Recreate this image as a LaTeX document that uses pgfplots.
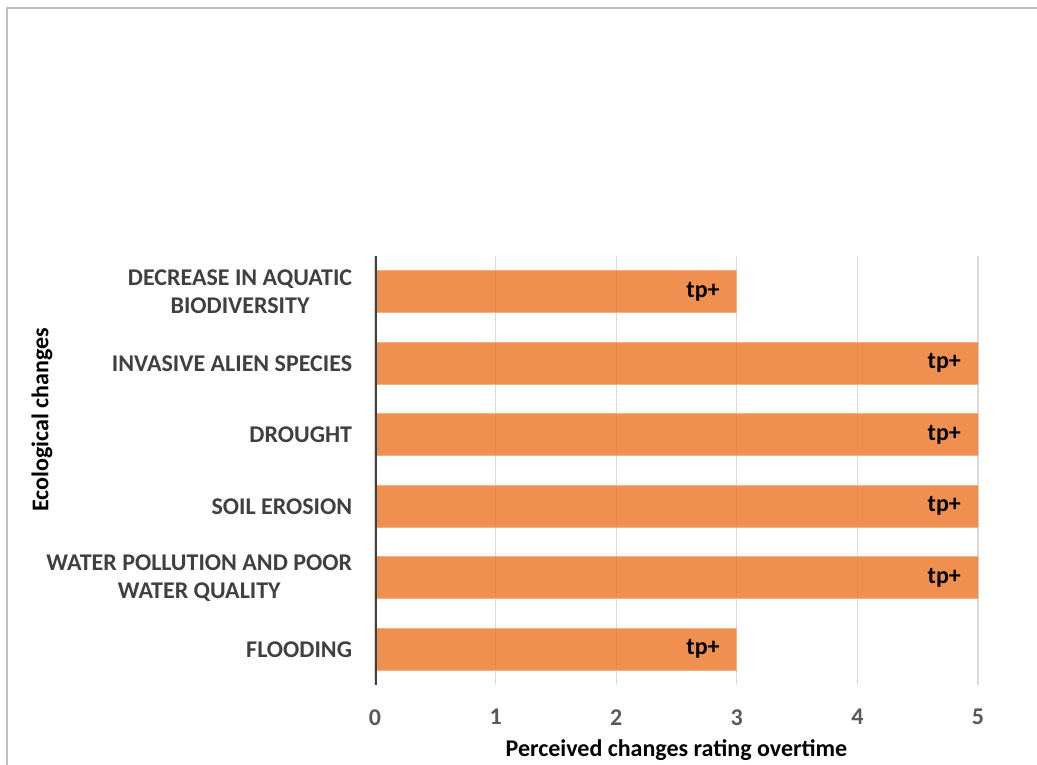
\documentclass[border=0pt]{standalone}
\usepackage{fontspec}
\setmainfont{Carlito}
\usepackage{pgfplots}
\pgfplotsset{compat=1.18}
\definecolor{barfill}{HTML}{ED7D31}
\definecolor{baredge}{HTML}{F4B183}
\definecolor{gridgray}{HTML}{D9D9D9}
\definecolor{framegray}{HTML}{BFBFBF}
\definecolor{ticktext}{HTML}{595959}
\definecolor{cattext}{HTML}{404040}
\definecolor{axisdark}{HTML}{404040}
\newcommand{\lblfont}{\fontsize{18pt}{21pt}\selectfont\bfseries}
\begin{document}
\begin{tikzpicture}
\useasboundingbox (0,0) rectangle (777.75pt,573pt);
\draw[framegray, line width=0.9pt] (5.25pt,-5pt) -- (5.25pt,567pt) -- (790pt,567pt);
\begin{axis}[
  at={(281.25pt,59.25pt)}, anchor=south west,
  scale only axis, width=452.25pt, height=321.75pt,
  xbar, bar width=31.5pt, bar shift=0pt,
  xmin=0, xmax=5, ymin=-0.5, ymax=5.5,
  xtick={0,1,2,3,4,5}, ytick={0,1,2,3,4,5},
  yticklabels={{FLOODING},{WATER POLLUTION AND POOR\\WATER QUALITY},{SOIL EROSION},{DROUGHT},{INVASIVE ALIEN SPECIES},{DECREASE IN AQUATIC\\BIODIVERSITY}},
  major tick length=0pt,
  axis line style={draw=none},
  xmajorgrids, grid style={gridgray, line width=0.9pt},
  /pgf/number format/assume math mode=true,
  xticklabel style={font=\lblfont, text=ticktext, inner sep=0pt, anchor=north},
  xticklabel shift=18pt,
  yticklabel style={font=\lblfont, text=cattext, inner sep=0pt, align=center, anchor=east},
  yticklabel shift=17pt,
  xlabel={Perceived changes rating overtime},
  ylabel={Ecological changes},
  every axis x label/.style={at={(axis description cs:0.5,0)}, anchor=center, yshift=-48.5pt, font=\lblfont, text=black},
  every axis y label/.style={at={(axis description cs:-0.5522,0.6177)}, anchor=center, rotate=90, font=\lblfont, text=black},
  nodes near coords={tp+},
  every node near coord/.append style={anchor=east, inner sep=0pt, xshift=-12.5pt, font=\lblfont, text=black},
]
\addplot[fill=barfill, fill opacity=0.85, draw=baredge, line width=0.75pt, text opacity=1]
  coordinates {(3,0) (5,1) (5,2) (5,3) (5,4) (3,5)};
\draw[axisdark, line width=2.25pt] (axis cs:0,-0.5) -- (axis cs:0,5.5);
\end{axis}
\end{tikzpicture}
\end{document}
